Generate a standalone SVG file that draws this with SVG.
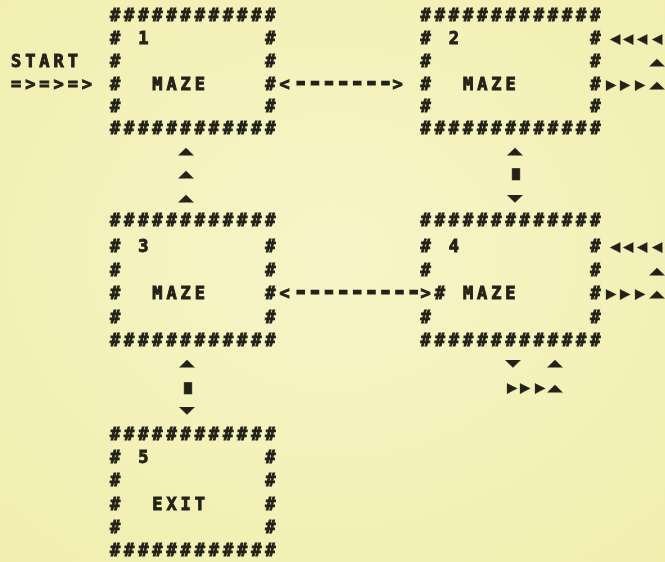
<svg xmlns="http://www.w3.org/2000/svg" width="665" height="562" viewBox="0 0 665 562" xml:space="preserve">
<defs>
<radialGradient id="paper" cx="0.5" cy="0.45" r="0.75">
<stop offset="0" stop-color="#f7f5c8"/>
<stop offset="1" stop-color="#f1eeae"/>
</radialGradient>
<filter id="soft" x="-5%" y="-5%" width="110%" height="110%">
<feGaussianBlur stdDeviation="0.35"/>
</filter>
</defs>
<style>
text{font-family:"DejaVu Sans Mono","DejaVu Sans","Liberation Mono",monospace;font-size:17px;font-weight:bold;fill:#222119;stroke:#222119;stroke-width:0.9;letter-spacing:3.9px;white-space:pre}
.d{font-size:24px;letter-spacing:-0.33px;stroke-width:1.2}
.v{letter-spacing:0;text-anchor:middle;font-size:19px;stroke-width:0.3}
.h{letter-spacing:0;text-anchor:middle;font-size:17px;stroke-width:0.3}
.b{letter-spacing:0;text-anchor:middle;font-size:19px;stroke-width:0.5}
</style>
<rect width="665" height="562" fill="url(#paper)"/>

<g filter="url(#soft)">
<g id="start">
<text x="11.1" y="67">START</text>
<text x="11.1" y="90">=&gt;=&gt;=&gt;</text>
</g>

<g id="node-1">
<text x="109.9" y="21">############</text>
<text x="109.9" y="44"># 1        #</text>
<text x="109.9" y="67">#          #</text>
<text x="109.9" y="90">#  MAZE    #</text>
<text x="109.9" y="112">#          #</text>
<text x="109.9" y="134">############</text>
</g>

<g id="node-2">
<text x="420.6" y="21">#############</text>
<text x="420.6" y="44"># 2         #</text>
<text x="420.6" y="67">#           #</text>
<text x="420.6" y="90">#  MAZE     #</text>
<text x="420.6" y="112">#           #</text>
<text x="420.6" y="134">#############</text>
</g>

<g id="node-3">
<text x="109.9" y="226">############</text>
<text x="109.9" y="252"># 3        #</text>
<text x="109.9" y="276">#          #</text>
<text x="109.9" y="299">#  MAZE    #</text>
<text x="109.9" y="323">#          #</text>
<text x="109.9" y="346">############</text>
</g>

<g id="node-4">
<text x="420.6" y="226">#############</text>
<text x="420.6" y="252"># 4         #</text>
<text x="420.6" y="276">#           #</text>
<text x="434.7" y="299"># MAZE     #</text>
<text x="420.6" y="323">#           #</text>
<text x="420.6" y="346">#############</text>
</g>

<g id="node-5">
<text x="109.9" y="440">############</text>
<text x="109.9" y="463"># 5        #</text>
<text x="109.9" y="486">#          #</text>
<text x="109.9" y="510">#  EXIT    #</text>
<text x="109.9" y="533">#          #</text>
<text x="109.9" y="556">############</text>
</g>

<g id="connectors">
<text x="279.4" y="90">&lt;<tspan class="d">-------</tspan>&gt;</text>
<text x="279.4" y="299">&lt;<tspan class="d">---------</tspan>&gt;</text>

<text class="v" transform="translate(186,155) scale(1.35,0.66)">▲</text>
<text class="v" transform="translate(186,178) scale(1.35,0.66)">▲</text>
<text class="v" transform="translate(186,202) scale(1.35,0.66)">▲</text>

<text class="v" transform="translate(515,155) scale(1.35,0.66)">▲</text>
<text class="b" transform="translate(516,179) scale(1.4,1)">▮</text>
<text class="v" transform="translate(515,202) scale(1.35,0.66)">▼</text>

<text class="v" transform="translate(187,367) scale(1.35,0.66)">▲</text>
<text class="b" transform="translate(188,393) scale(1.4,1)">▮</text>
<text class="v" transform="translate(187,414) scale(1.35,0.66)">▼</text>

<text class="h" x="615" y="44">◀</text>
<text class="h" x="628" y="44">◀</text>
<text class="h" x="642" y="44">◀</text>
<text class="h" x="657" y="44">◀</text>
<text class="v" transform="translate(657,66) scale(1.35,0.66)">▲</text>
<text class="h" x="611" y="90">▶</text>
<text class="h" x="625" y="90">▶</text>
<text class="h" x="640" y="90">▶</text>
<text class="v" transform="translate(657,89) scale(1.35,0.66)">▲</text>

<text class="h" x="615" y="252">◀</text>
<text class="h" x="628" y="252">◀</text>
<text class="h" x="642" y="252">◀</text>
<text class="h" x="657" y="252">◀</text>
<text class="v" transform="translate(657,275) scale(1.35,0.66)">▲</text>
<text class="h" x="611" y="299">▶</text>
<text class="h" x="625" y="299">▶</text>
<text class="h" x="640" y="299">▶</text>
<text class="v" transform="translate(657,298) scale(1.35,0.66)">▲</text>

<text class="v" transform="translate(513,367) scale(1.35,0.66)">▼</text>
<text class="v" transform="translate(555,367) scale(1.35,0.66)">▲</text>
<text class="h" x="512" y="393">▶</text>
<text class="h" x="525" y="393">▶</text>
<text class="h" x="540" y="393">▶</text>
<text class="v" transform="translate(555,392) scale(1.35,0.66)">▲</text>
</g>
</g>
</svg>
